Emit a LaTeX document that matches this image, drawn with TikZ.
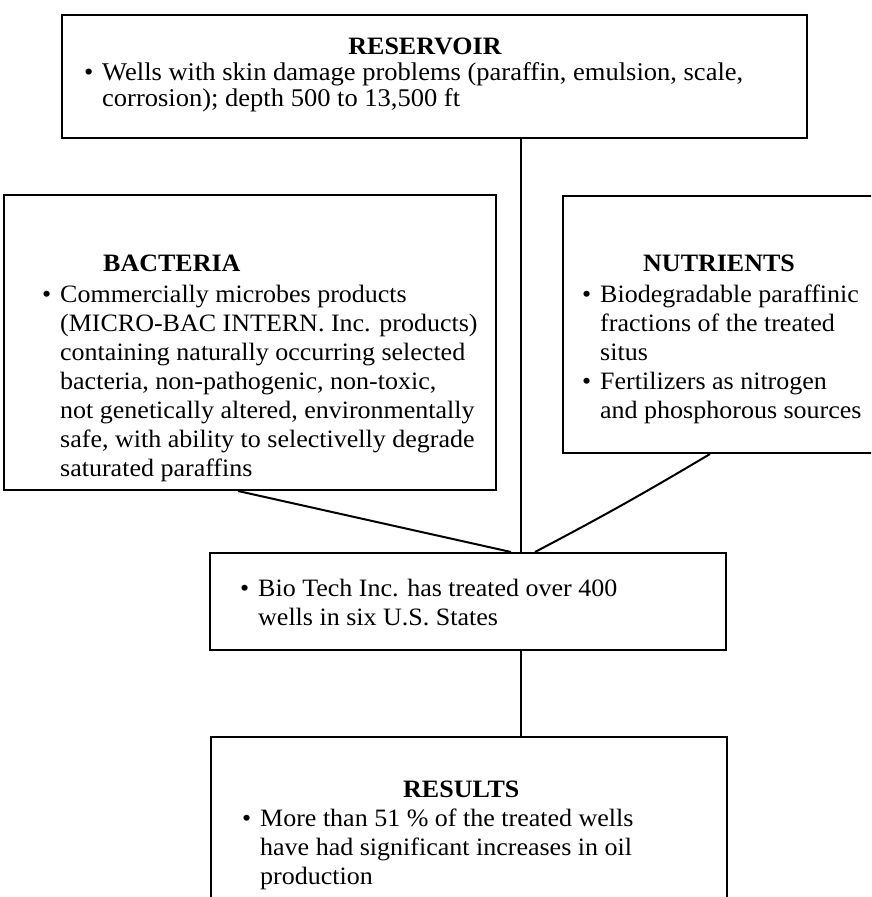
\documentclass[tikz,border=0pt]{standalone}
\usepackage{fontspec}
\setmainfont{Liberation Serif}[FakeStretch=1.04]
\usepackage{array}

% body text sizes
\newcommand{\bodytext}{\fontsize{25}{29}\selectfont}
\newcommand{\bodytextres}{\fontsize{25.5}{26}\selectfont}
\newcommand{\headtext}{\fontsize{25}{29}\selectfont\bfseries}
% bulleted block: first column holds the bullet, second the text lines
\newcommand{\bulblock}[1]{\begin{tabular}[t]{@{}p{18pt}@{}l@{}}#1\end{tabular}}

\begin{document}
\begin{tikzpicture}[x=1pt,y=-1pt,
  panel/.style={draw, line width=2pt, inner sep=0pt, anchor=north west},
  link/.style={line width=2pt},
  head/.style={inner sep=0pt, font=\headtext},
  txt/.style={inner sep=0pt, anchor=base west, font=\bodytext},
]
\useasboundingbox (0,0) rectangle (871,897);
\clip (0,0) rectangle (871,897);

% boxes
\node[panel, minimum width=745pt, minimum height=123pt] (res) at (61,14) {};
\node[panel, minimum width=492pt, minimum height=295pt] (bac) at (3,194) {};
\node[panel, minimum width=340pt, minimum height=257pt] (nut) at (562,195) {};
\node[panel, minimum width=516pt, minimum height=97pt]  (mid) at (209,552) {};
\node[panel, minimum width=516pt, minimum height=200pt] (out) at (210,736) {};

% reservoir text
\node[head, anchor=base] (res-h) at (425,54) {RESERVOIR};
\node[txt, font=\bodytextres] (res-t) at (84,80) {\bulblock{%
  \textbullet & Wells with skin damage problems (paraffin, emulsion, scale,\\
              & corrosion); depth 500 to 13,500 ft}};

% bacteria text
\node[head, anchor=base west] (bac-h) at (103,271) {BACTERIA};
\node[txt] (bac-t) at (42,302) {\bulblock{%
  \textbullet & Commercially microbes products\\
              & (MICRO-BAC INTERN. Inc. products)\\
              & containing naturally occurring selected\\
              & bacteria, non-pathogenic, non-toxic,\\
              & not genetically altered, environmentally\\
              & safe, with ability to selectivelly degrade\\
              & saturated paraffins}};

% nutrients text
\node[head, anchor=base west] (nut-h) at (643,271) {NUTRIENTS};
\node[txt] (nut-t) at (582,302) {\bulblock{%
  \textbullet & Biodegradable paraffinic\\
              & fractions of the treated\\
              & situs\\
  \textbullet & Fertilizers as nitrogen\\
              & and phosphorous sources}};

% treatment text
\node[txt] (mid-t) at (240,596) {\bulblock{%
  \textbullet & Bio Tech Inc. has treated over 400\\
              & wells in six U.S. States}};

% results text
\node[head, anchor=base west] (out-h) at (403,797) {RESULTS};
\node[txt] (out-t) at (242,826) {\bulblock{%
  \textbullet & More than 51 \% of the treated wells\\
              & have had significant increases in oil\\
              & production}};

% connection points on the box edges
\coordinate (res-o) at ([xshift=460pt]res.south west);
\coordinate (bac-o) at ([xshift=235pt]bac.south west);
\coordinate (nut-o) at ([xshift=148pt]nut.south west);
\coordinate (mid-a) at ([xshift=302pt]mid.north west);
\coordinate (mid-b) at ([xshift=312pt]mid.north west);
\coordinate (mid-c) at ([xshift=326pt]mid.north west);
\coordinate (mid-o) at ([xshift=312pt]mid.south west);
\coordinate (out-i) at ([xshift=311pt]out.north west);

% connectors
\draw[link] (res-o) -- (mid-b);
\draw[link] (bac-o) -- (mid-a);
\draw[link] (nut-o) to[bend left=1.5] (mid-c);
\draw[link] (mid-o) -- (out-i);
\end{tikzpicture}
\end{document}
